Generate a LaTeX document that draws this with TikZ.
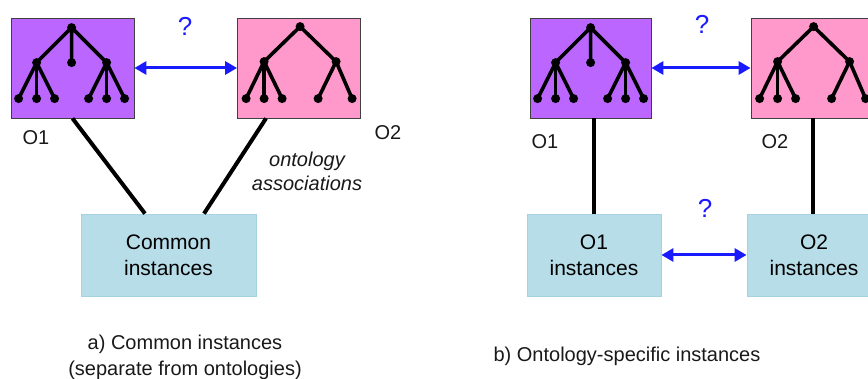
\documentclass[tikz,border=0pt]{standalone}
\usepackage{fontspec}
\setmainfont{Liberation Sans}
\usetikzlibrary{arrows.meta}
\definecolor{ontopurple}{HTML}{BB66FF}
\definecolor{ontopink}{HTML}{FF99CC}
\definecolor{instblue}{HTML}{B7DDE8}
\definecolor{instedge}{HTML}{A5D2E0}
\definecolor{askblue}{HTML}{1A1AFF}

% tree with 3 + 1 + 3 leaves
\newcommand{\ontreeA}{%
  \draw[branch] (61,10) -- (26,45) (61,10) -- (61,45) (61,10) -- (96,45);
  \foreach \x in {8,26,44} \draw[branch] (26,45) -- (\x,81);
  \foreach \x in {78,96,114} \draw[branch] (96,45) -- (\x,81);
  \foreach \x/\y in {61/10,26/45,61/45,96/45,8/81,26/81,44/81,78/81,96/81,114/81}
    \fill (\x,\y) circle [radius=4.5pt];}
% tree with 3 + 2 leaves
\newcommand{\ontreeB}{%
  \draw[branch] (63,9) -- (27,44) (63,9) -- (99,44);
  \foreach \x in {9,27,45} \draw[branch] (27,44) -- (\x,81);
  \foreach \x in {81,115} \draw[branch] (99,44) -- (\x,81);
  \foreach \x/\y in {63/9,27/44,99/44,9/81,27/81,45/81,81/81,115/81}
    \fill (\x,\y) circle [radius=4.5pt];}

\begin{document}
\begin{tikzpicture}[x=1pt, y=-1pt,
  onto/.style={draw=black!75, line width=0.8pt, minimum width=123pt, minimum height=100pt, inner sep=0pt},
  inst/.style={fill=instblue, draw=instedge, line width=0.8pt, minimum height=82pt, align=center, inner sep=0pt, font=\fontsize{21}{26}\selectfont},
  branch/.style={line width=3.6pt, line cap=round},
  assoc/.style={line width=4pt},
  link/.style={askblue, line width=3pt, {Triangle[length=12pt,width=13pt]}-{Triangle[length=12pt,width=13pt]}},
  ask/.style={text=askblue, font=\fontsize{26}{30}\selectfont},
  lbl/.style={text=black!90, font=\fontsize{20}{26}\selectfont, align=center}]
\useasboundingbox (0,0) rectangle (868,379);
\clip (0,0) rectangle (868,379);

% a) Common instances
\node[onto, fill=ontopurple] (ao1) at (72.5,68) {};
\node[onto, fill=ontopink] (ao2) at (299,68) {};
\node[inst, minimum width=175pt] (ainst) at (168.5,255) {Common\\instances};
\begin{scope}[shift={(ao1.north west)}] \ontreeA \end{scope}
\begin{scope}[shift={(ao2.north west)}] \ontreeB \end{scope}
\draw[link] (ao1.east) -- (ao2.west);
\node[ask] (aask) at (185,26) {?};
\draw[assoc] (ao1.south) -- ([xshift=-23.5pt]ainst.north);
\draw[assoc] ([xshift=-33pt]ao2.south) -- ([xshift=35.5pt]ainst.north);
\node[lbl] (ao1lbl) at (36,138) {O1};
\node[lbl] (ao2lbl) at (388,133) {O2};
\node[lbl, font=\fontsize{20}{24}\selectfont\itshape] (aassoc) at (307,171) {ontology\\associations};
\node[lbl] (acap) at (185,357) {a) Common instances\\(separate from ontologies)};

% b) Ontology-specific instances
\node[onto, fill=ontopurple, minimum width=121pt] (bo1) at (590.5,68) {};
\node[onto, fill=ontopink, minimum width=124pt] (bo2) at (813,68) {};
\node[inst, minimum width=134pt] (bi1) at (594,255) {O1\\instances};
\node[inst, minimum width=134pt] (bi2) at (814,255) {O2\\instances};
\begin{scope}[shift={(bo1.north west)}] \ontreeA \end{scope}
\begin{scope}[shift={(bo2.north west)}] \ontreeB \end{scope}
\draw[link] (bo1.east) -- (bo2.west);
\draw[link] (bi1.east) -- (bi2.west);
\node[ask] (bask1) at (702,24) {?};
\node[ask] (bask2) at (705,208) {?};
\draw[assoc] ([xshift=3pt]bo1.south) -- ([xshift=3pt]bo1.south |- bi1.north);
\draw[assoc] (bo2.south) -- (bo2.south |- bi2.north);
\node[lbl] (bo1lbl) at (545,142) {O1};
\node[lbl] (bo2lbl) at (775,142) {O2};
\node[lbl] (bcap) at (627,356) {b) Ontology-specific instances};
\end{tikzpicture}
\end{document}
